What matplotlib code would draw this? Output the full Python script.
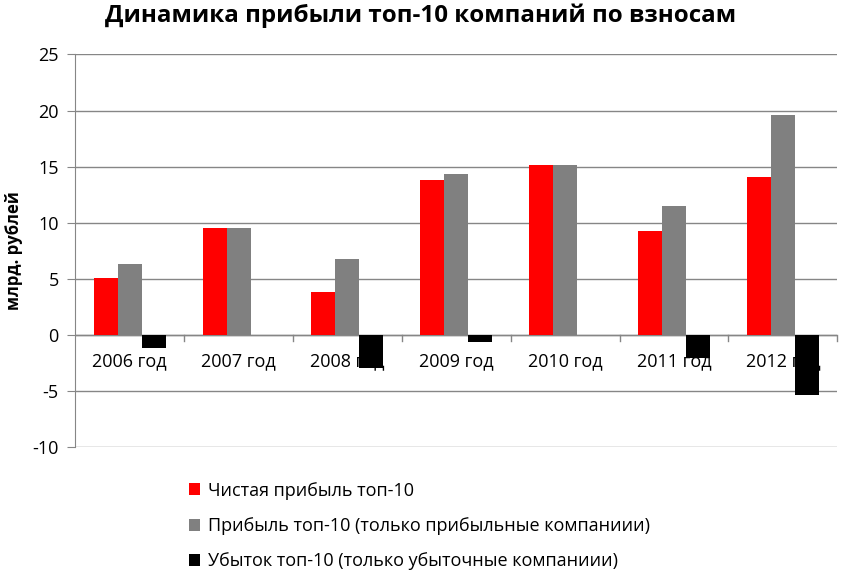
import numpy as np
import matplotlib.pyplot as plt

plt.rcParams['font.family'] = ['Open Sans', 'DejaVu Sans']
plt.rcParams['axes.unicode_minus'] = False

years = ["2006 год", "2007 год", "2008 год", "2009 год", "2010 год", "2011 год", "2012 год"]
net_profit = [5.1, 9.5, 3.8, 13.8, 15.1, 9.3, 14.1]
profit_only = [6.3, 9.5, 6.8, 14.3, 15.1, 11.5, 19.6]
loss_only = [-1.2, 0.0, -3.0, -0.6, 0.0, -2.1, -5.4]

labels = [
    "Чистая прибыль топ-10",
    "Прибыль топ-10 (только прибыльные компаниии)",
    "Убыток топ-10 (только убыточные компаниии)",
]
colors = ["#FF0000", "#808080", "#000000"]
grid_color = "#868686"

fig = plt.figure(figsize=(8.42, 5.79), dpi=100)
ax = fig.add_axes([0.0894, 0.228, 0.905, 0.678])

x = np.arange(len(years))
w = 0.22
for k, (vals, lab, col) in enumerate(zip([net_profit, profit_only, loss_only], labels, colors)):
    ax.bar(x + (k - 1) * w, vals, width=w, color=col, label=lab, zorder=3)

ax.set_xlim(-0.5, len(years) - 0.5)
ax.set_ylim(-10, 25)
ax.set_yticks(np.arange(-10, 26, 5))
ax.yaxis.grid(True, color=grid_color, linewidth=1)
ax.set_axisbelow(True)

# category labels sit just under the zero line, behind the bars
ax.set_xticks([])
for i, name in enumerate(years):
    ax.annotate(name, (i, 0), xytext=(0, -19), textcoords="offset points",
                ha="center", va="center", fontsize=13, zorder=1)
# boundary tick marks on the zero line
for b in np.arange(0.5, len(years) - 0.5 + 0.01, 1.0):
    ax.plot([b, b], [0, -0.55], color=grid_color, linewidth=1, zorder=2, clip_on=False)
ax.axhline(0, color=grid_color, linewidth=1, zorder=2)

for s in ["top", "right", "bottom"]:
    ax.spines[s].set_visible(False)
ax.spines["left"].set_color(grid_color)
ax.tick_params(axis="y", length=6, color=grid_color, labelsize=13, pad=6)

ax.set_ylabel("млрд. рублей", fontsize=12, fontweight="bold")
ax.yaxis.set_label_coords(-0.069, 0.5)
fig.text(0.5, 0.972, "Динамика прибыли топ-10 компаний по взносам",
         ha="center", va="center", fontsize=17.4, fontweight="bold")

fig.legend(loc="upper left", bbox_to_anchor=(0.224, 0.168), frameon=False,
           fontsize=13, handlelength=0.65, handleheight=0.65, handletextpad=0.4,
           labelspacing=0.95, borderaxespad=0, borderpad=0)

fig.savefig("out.png", dpi=100)
